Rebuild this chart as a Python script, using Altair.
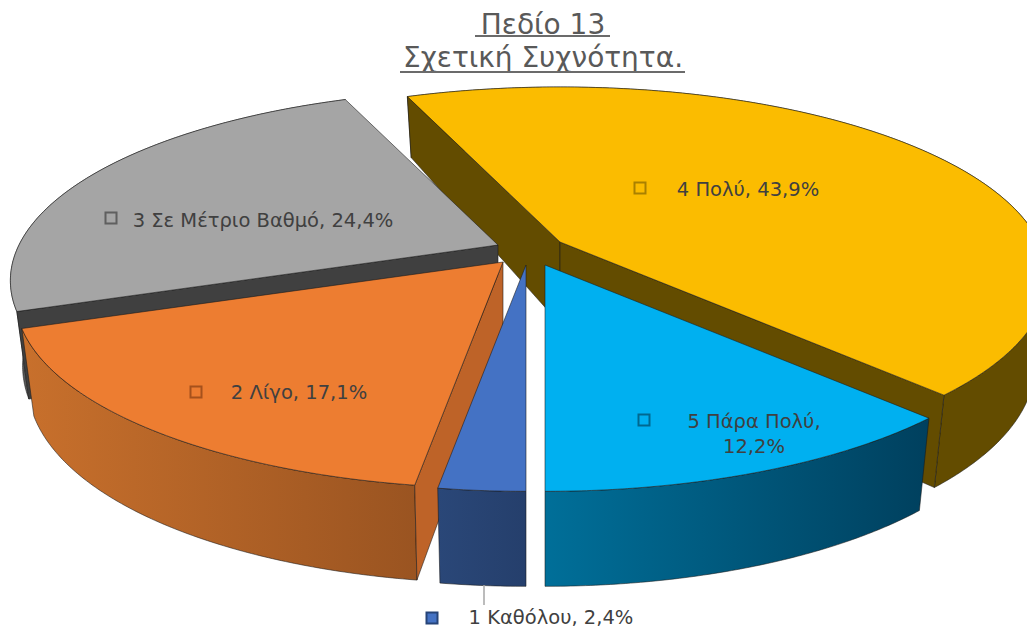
import math
import altair as alt

# ---- data ----
categories = ["1 Καθόλου", "2 Λίγο", "3 Σε Μέτριο Βαθμό", "4 Πολύ", "5 Πάρα Πολύ"]
percents = [2.4, 17.1, 24.4, 43.9, 12.2]
top_colors = ["#4472C4", "#ED7D31", "#A5A5A5", "#FBBC00", "#00B0F0"]
wall_left = ["#2A4778", "#C8702C", "#5A5A5A", "#634C00", "#006F99"]
wall_right = ["#253F6C", "#9A5421", "#3F3F3F", "#634C00", "#00405E"]
cut_colors = ["#2A4778", "#BE6328", "#404040", "#634C00", "#00506F"]
key_strokes = ["#264478", "#A5511C", "#5F5F5F", "#A98000", "#00688F"]
apex_x = [526, 503, 498, 560, 545]
apex_y = [265, 262, 245, 242, 265]
paint_order = [3, 2, 1, 4, 0]
show_start_wall = [False, True, True, True, False]
show_end_wall = [False, False, False, True, False]

label_lines = [["1 Καθόλου, 2,4%"], ["2 Λίγο, 17,1%"], ["3 Σε Μέτριο Βαθμό, 24,4%"],
               ["4 Πολύ, 43,9%"], ["5 Πάρα Πολύ,", "12,2%"]]
label_x = [551, 299, 263, 748, 754]
label_y = [618, 393, 221, 190, 422]
key_x = [432, 196, 111, 640, 644]
key_y = [618, 392, 218, 188, 420]

title_lines = ["Πεδίο 13", "Σχετική Συχνότητα."]

# ---- pie projection ----
A, B, K, SHRINK = 479.0, 184.0, 0.187, 0.975
PROJ = dict(type="identity", scale=1, translate=[-8, -8])


def top_pt(i, deg):
    t = math.radians(deg)
    u, v = math.sin(t), -math.cos(t)
    w = 1 - K * v
    return [apex_x[i] + A * u / w, apex_y[i] + B * v / w]


def depth(v):
    return 82 + 18 * v - 5 * v * v


def bot_pt(i, deg):
    t = math.radians(deg)
    u, v = math.sin(t), -math.cos(t)
    w = 1 - K * v
    return [apex_x[i] + SHRINK * A * u / w, apex_y[i] + B * v / w + depth(v)]


def feature(ring):
    ring = ring + [ring[0]]
    return [{"type": "Feature", "properties": {},
             "geometry": {"type": "Polygon", "coordinates": [ring]}}]


EDGE = dict(stroke="#1a1a1a", strokeWidth=0.7, strokeOpacity=0.8)


def shape(ring, fill):
    return alt.Chart(alt.Data(values=feature(ring))).mark_geoshape(fill=fill, **EDGE).project(**PROJ)


starts = []
acc = 180.0
for p in percents:
    starts.append(acc)
    acc += p * 3.6

layers = []
for i in paint_order:
    a0 = starts[i]
    a1 = a0 + percents[i] * 3.6
    n = max(6, int((a1 - a0) * 2))
    degs = [a0 + (a1 - a0) * k / n for k in range(n + 1)]
    ax, ay = apex_x[i], apex_y[i]
    apex_bot = [ax, ay + depth(0)]
    grad = alt.LinearGradient(gradient="linear", x1=0, x2=1, y1=0, y2=0,
                              stops=[alt.GradientStop(color=wall_left[i], offset=0),
                                     alt.GradientStop(color=wall_right[i], offset=1)])
    # outer wall
    layers.append(shape([top_pt(i, d) for d in degs] + [bot_pt(i, d) for d in reversed(degs)], grad))
    # visible radial cut walls
    if show_start_wall[i]:
        layers.append(shape([[ax, ay], top_pt(i, a0), bot_pt(i, a0), apex_bot], cut_colors[i]))
    if show_end_wall[i]:
        layers.append(shape([[ax, ay], top_pt(i, a1), bot_pt(i, a1), apex_bot], cut_colors[i]))
    # top face
    layers.append(shape([[ax, ay]] + [top_pt(i, d) for d in degs], top_colors[i]))

# leader line of the small slice
layers.append(alt.Chart(alt.Data(values=[{"a": 0}])).mark_rule(color="#A6A6A6", strokeWidth=1.5).encode(
    x=alt.value(484 - 8), y=alt.value(585 - 8), y2=alt.value(605 - 8)))

# keys and labels
for i in range(5):
    layers.append(alt.Chart(alt.Data(values=[{"k": categories[i], "lon": key_x[i], "lat": key_y[i]}]))
                  .mark_square(size=121, fill=top_colors[i], stroke=key_strokes[i], strokeWidth=2, opacity=1)
                  .encode(longitude="lon:Q", latitude="lat:Q").project(**PROJ))
    for j, line in enumerate(label_lines[i]):
        layers.append(alt.Chart(alt.Data(values=[{"t": line, "lon": label_x[i], "lat": label_y[i] + 25 * j}]))
                      .mark_text(align="center", baseline="middle", font="DejaVu Sans",
                                 fontSize=19.5, color="#404040")
                      .encode(longitude="lon:Q", latitude="lat:Q", text="t:N").project(**PROJ))

# title and underlines
title_y = [34, 67]
rule_x0 = [475, 400]
rule_x1 = [610, 685]
rule_y = [36, 72]
for t, y, r0, r1, ry in zip(title_lines, title_y, rule_x0, rule_x1, rule_y):
    layers.append(alt.Chart(alt.Data(values=[{"t": t}])).mark_text(
        align="center", baseline="alphabetic", font="DejaVu Sans", fontSize=28, color="#595959"
    ).encode(x=alt.value(543 - 8), y=alt.value(y - 8), text="t:N"))
    layers.append(alt.Chart(alt.Data(values=[{"a": 0}])).mark_rule(color="#6B6B6B", strokeWidth=2).encode(
        x=alt.value(r0 - 8), x2=alt.value(r1 - 8), y=alt.value(ry - 8)))

chart = alt.layer(*layers).properties(
    width=1019, height=622, padding=0,
    autosize=alt.AutoSizeParams(type="none"),
).configure_view(stroke=None)

chart.save("out.html", embed_options={"renderer": "svg", "actions": False})
